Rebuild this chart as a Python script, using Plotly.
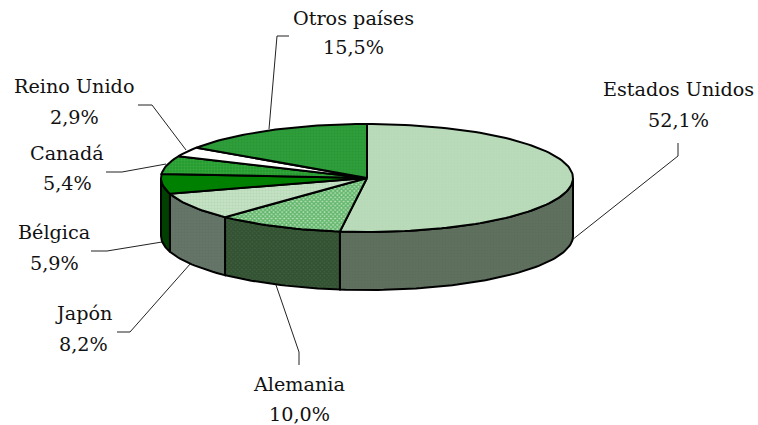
import numpy as np
import plotly.graph_objects as go

# Data
countries = ["Estados Unidos", "Alemania", "Japón", "Bélgica", "Canadá", "Reino Unido", "Otros países"]
shares = [52.1, 10.0, 8.2, 5.9, 5.4, 2.9, 15.5]

# Styles: (fill, pattern shape, pattern colour, pattern solidity)
top_styles = [
    ("#BADBBA", ".", "#B0D6B0", 0.4),
    ("#B8DFB8", "x", "#0C9020", 0.7),
    ("#C8E3C8", ".", "#A8D0A8", 0.5),
    ("#008000", "", "", 0),
    ("#1F9A2B", ".", "#4FB04F", 0.5),
    ("#FFFFFF", "", "", 0),
    ("#2F9F3C", ".", "#249030", 0.5),
]
side_styles = [
    ("#5F705F", ".", "#566756", 0.4),
    ("#3F5F3F", "x", "#244424", 0.7),
    ("#66776A", ".", "#5B6C5F", 0.5),
    ("#004000", "", "", 0),
]

# Label layout
label_x = [678, 299, 83.5, 54, 67, 74, 353]
name_y = [89, 384, 313, 232, 153, 86, 18]
pct_y = [120, 414, 344, 263, 183, 117, 47]
leaders = [
    "M678,143 L678,156 L572,240",
    "M299,365 L299,352 L276,285",
    "M117,332 L130,332 L191,263",
    "M91,251 L107,251 L162,242",
    "M106,172 L122,172 L166,164",
    "M138,105 L152,105 L186,150",
    "M289,36 L277,36 L269,129",
]

# Pie projection
CX, CY, RX, RY, DEPTH = 367, 178, 206, 54, 58
FONT = "DejaVu Serif"


def arc(a0, a1, dy=0.0):
    n = max(int(abs(a1 - a0) / 1.5), 2)
    t = np.radians(np.linspace(a0, a1, n))
    return CX + RX * np.sin(t), CY - RY * np.cos(t) + dy


def add_poly(fig, xs, ys, style, lw=2):
    fill, shape, fg, sol = style
    kw = {}
    if shape:
        kw["fillpattern"] = dict(shape=shape, bgcolor=fill, fgcolor=fg, size=3, solidity=sol)
    fig.add_trace(go.Scatter(
        x=xs, y=ys, mode="lines", fill="toself", fillcolor=fill,
        line=dict(color="black", width=lw), hoverinfo="skip", showlegend=False, **kw))


cum = np.concatenate([[0], np.cumsum(shares)]) / sum(shares) * 360
fig = go.Figure()

# Visible side walls (front half of the ellipse)
for i, (a0, a1) in enumerate(zip(cum[:-1], cum[1:])):
    lo, hi = max(a0, 90), min(a1, 270)
    if lo < hi:
        xt, yt = arc(lo, hi)
        xb, yb = arc(hi, lo, DEPTH)
        add_poly(fig, np.r_[xt, xb, xt[0]], np.r_[yt, yb, yt[0]], side_styles[i])

# Top wedges
for i, (a0, a1) in enumerate(zip(cum[:-1], cum[1:])):
    xt, yt = arc(a0, a1)
    add_poly(fig, np.r_[CX, xt, CX], np.r_[CY, yt, CY], top_styles[i])

annotations = []
for name, val, x, y0, y1 in zip(countries, shares, label_x, name_y, pct_y):
    for text, y in ((name, y0), (f"{val:.1f}%".replace(".", ","), y1)):
        annotations.append(dict(x=x, y=y, text=text, showarrow=False, xanchor="center",
                                yanchor="middle", font=dict(family=FONT, size=19.2, color="#111111")))

shapes = [dict(type="path", path=p, line=dict(color="#222222", width=1), layer="below") for p in leaders]

fig.update_layout(
    width=758, height=425, margin=dict(l=0, r=0, t=0, b=0),
    paper_bgcolor="white", plot_bgcolor="white", showlegend=False,
    xaxis=dict(range=[0, 758], visible=False, fixedrange=True),
    yaxis=dict(range=[425, 0], visible=False, fixedrange=True),
    annotations=annotations, shapes=shapes,
)
fig.write_html("out.html", config={"displayModeBar": False},
               post_script="document.body.style.margin='0';document.documentElement.style.overflow='hidden';")
